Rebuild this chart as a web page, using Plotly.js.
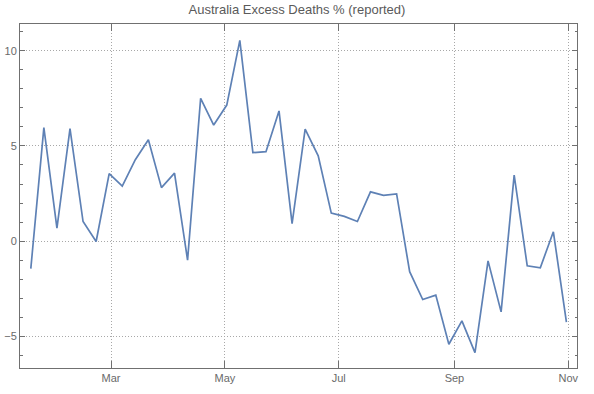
<!DOCTYPE html>
<html>
<head>
<meta charset="utf-8">
<script src="https://cdn.plot.ly/plotly-3.0.1.min.js"></script>
<style>html,body{margin:0;padding:0;background:#fff}#chart{width:594px;height:394px}</style>
</head>
<body>
<div id="chart"></div>
<script>
const weekDates = ["2020-01-18","2020-01-25","2020-02-01","2020-02-08","2020-02-15","2020-02-22","2020-02-29",
"2020-03-07","2020-03-14","2020-03-21","2020-03-28","2020-04-04","2020-04-11","2020-04-18","2020-04-25",
"2020-05-02","2020-05-09","2020-05-16","2020-05-23","2020-05-30","2020-06-06","2020-06-13","2020-06-20",
"2020-06-27","2020-07-04","2020-07-11","2020-07-18","2020-07-25","2020-08-01","2020-08-08","2020-08-15",
"2020-08-22","2020-08-29","2020-09-05","2020-09-12","2020-09-19","2020-09-26","2020-10-03","2020-10-10",
"2020-10-17","2020-10-24","2020-10-31"];
const excessPct = [-1.45, 5.96, 0.68, 5.91, 1.03, -0.02, 3.55,
2.89, 4.28, 5.33, 2.81, 3.57, -1.0, 7.5, 6.1,
7.15, 10.55, 4.65, 4.7, 6.84, 0.92, 5.88, 4.48,
1.47, 1.3, 1.03, 2.59, 2.4, 2.48, -1.61, -3.07,
-2.84, -5.42, -4.19, -5.86, -1.04, -3.72, 3.47, -1.3,
-1.4, 0.49, -4.26];
const xTickVals = ["2020-03-01","2020-05-01","2020-07-01","2020-09-01","2020-11-01"];
const xTickText = ["Mar","May","Jul","Sep","Nov"];
const yTickVals = [-5, 0, 5, 10];
const titleText = "Australia Excess Deaths % (reported)";

const axisColor = "#707070";
const textColor = "#6a6a6a";
const gridColor = "#a8a8a8";

Plotly.newPlot("chart", [{
  x: weekDates, y: excessPct, type: "scatter", mode: "lines",
  line: {color: "#5e81b5", width: 1.7},
  hoverinfo: "skip"
}], {
  width: 594, height: 394,
  margin: {l: 19.5, r: 17, t: 23.5, b: 26, pad: 0},
  paper_bgcolor: "#fff", plot_bgcolor: "#fff",
  showlegend: false,
  font: {family: "Liberation Sans, Arial, sans-serif", size: 11, color: textColor},
  title: {text: titleText, x: 0.5, xanchor: "center", y: 0.975, yanchor: "middle",
          font: {family: "Liberation Sans, Arial, sans-serif", size: 13, color: "#5a5a5a"}},
  xaxis: {
    type: "date", range: ["2020-01-12 05:00", "2020-11-05 16:00"],
    tickvals: xTickVals, ticktext: xTickText,
    ticks: "inside", ticklen: 7, tickwidth: 1, tickcolor: axisColor,
    showline: true, linecolor: axisColor, linewidth: 1, mirror: "ticks",
    showgrid: true, gridcolor: gridColor, griddash: "1px,2px", gridwidth: 1,
    zeroline: false, fixedrange: true,
    tickfont: {size: 11, color: textColor}
  },
  yaxis: {
    range: [-6.67, 11.41],
    tickvals: yTickVals,
    ticks: "inside", ticklen: 5, tickwidth: 1, tickcolor: axisColor,
    minor: {dtick: 1, tick0: 0, ticks: "inside", ticklen: 2.5, tickcolor: axisColor, showgrid: false},
    showline: true, linecolor: axisColor, linewidth: 1, mirror: "ticks",
    showgrid: true, gridcolor: gridColor, griddash: "1px,2px", gridwidth: 1,
    zeroline: false, fixedrange: true,
    tickfont: {size: 11, color: textColor}
  }
}, {displayModeBar: false, staticPlot: true});
</script>
</body>
</html>
